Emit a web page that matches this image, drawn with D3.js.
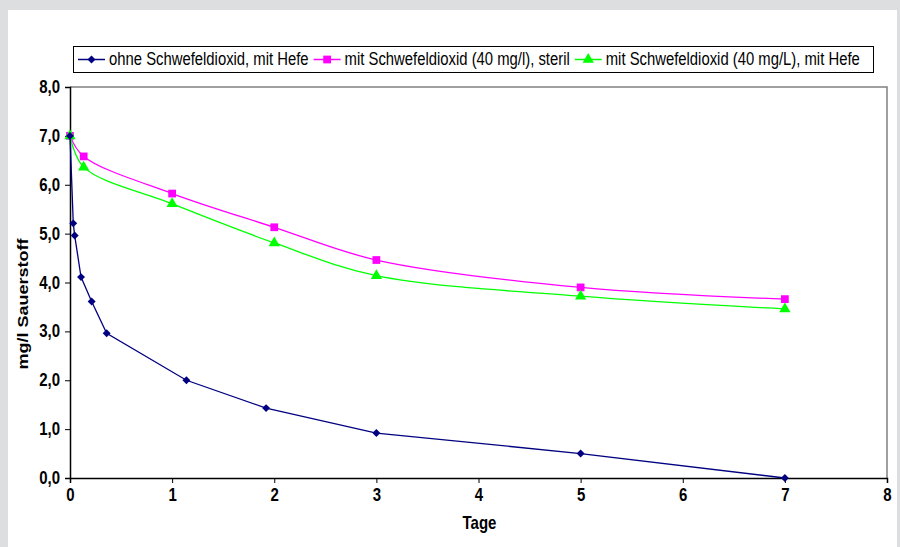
<!DOCTYPE html>
<html><head><meta charset="utf-8">
<script src="https://cdn.jsdelivr.net/npm/d3@7"></script>
<style>
html,body{margin:0;padding:0;background:#dddee0;}
svg{display:block;font-family:"Liberation Sans",Arial,sans-serif;}
</style></head>
<body><svg id="c" width="900" height="547"></svg>
<script>
const seriesNames = ["ohne Schwefeldioxid, mit Hefe","mit Schwefeldioxid (40 mg/l), steril","mit Schwefeldioxid (40 mg/L), mit Hefe"];
const daysA = [0, 0.032, 0.046, 0.108, 0.212, 0.359, 1.14, 1.92, 3, 5, 7];
const oxyA  = [7.0, 5.21, 4.96, 4.11, 3.61, 2.96, 2.0, 1.43, 0.92, 0.5, 0.0];
const daysB = [0, 0.134, 1, 2, 3, 5, 7];
const oxyB  = [7.0, 6.58, 5.82, 5.13, 4.46, 3.9, 3.66];
const daysC = [0, 0.134, 1, 2, 3, 5, 7];
const oxyC  = [7.0, 6.36, 5.61, 4.81, 4.14, 3.72, 3.46];
const xTicks = [0,1,2,3,4,5,6,7,8];
const yTicks = [0,1,2,3,4,5,6,7,8];

const SY = 1.2; // vertical stretch of the text, as in the picture
const svg = d3.select("#c");
svg.append("rect").attr("x",8).attr("y",10).attr("width",889).attr("height",540).attr("fill","#fff");

const x = d3.scaleLinear().domain([0,8]).range([70,887]);
const y = d3.scaleLinear().domain([0,8]).range([478,87]);

svg.append("path").attr("d",`M${x(0)},${y(8)}H${x(8)}V${y(0)}`).attr("fill","none").attr("stroke","#808080").attr("stroke-width",1.5);

const fmt = d => d3.format(".1f")(d).replace(".",",");
const yAx = svg.append("g").attr("transform",`translate(${x(0)},0)`)
  .call(d3.axisLeft(y).tickValues(yTicks).tickSize(5).tickFormat(fmt));
const xAx = svg.append("g").attr("transform",`translate(0,${y(0)})`)
  .call(d3.axisBottom(x).tickValues(xTicks).tickSize(5).tickFormat(d3.format("d")));
[yAx,xAx].forEach(g=>{
  g.select(".domain").attr("stroke","#000").attr("stroke-width",1.5);
  g.selectAll(".tick line").attr("stroke","#000");
  g.selectAll("text").attr("font-size",15).attr("font-weight","bold").attr("fill","#000")
   .attr("font-family","'Liberation Sans',Arial,sans-serif");
});
yAx.selectAll("text").attr("x",-10).attr("y",0).attr("dy",null)
  .attr("transform",`translate(0,${5.5}) scale(1,${SY})`);
xAx.selectAll("text").attr("y",0).attr("dy",null)
  .attr("transform",`translate(0,${23}) scale(1,${SY})`);

svg.append("text").attr("text-anchor","middle").attr("font-size",15).attr("font-weight","bold")
  .attr("transform",`translate(${x(4)+1},529) scale(1,${SY})`).text("Tage");
svg.append("text").attr("text-anchor","middle").attr("font-size",15).attr("font-weight","bold")
  .attr("transform",`translate(28,304) rotate(-90) scale(${SY},1)`).text("mg/l Sauerstoff");

const colors = ["#000080","#ff00ff","#00ff00"];
const data = [
  daysA.map((d,i)=>[d,oxyA[i]]),
  daysB.map((d,i)=>[d,oxyB[i]]),
  daysC.map((d,i)=>[d,oxyC[i]])
];
const curves = [d3.curveLinear, d3.curveCatmullRom.alpha(0.5), d3.curveCatmullRom.alpha(0.5)];
const sym = [d3.symbolDiamond2, d3.symbolSquare, d3.symbolTriangle];
const symSize = [40, 60, 55];

function marker(g, i, cx, cy){
  g.append("path").attr("d", d3.symbol().type(sym[i]).size(symSize[i])())
   .attr("transform",`translate(${cx},${cy})`).attr("fill",colors[i]).attr("stroke","none");
}

[1,2,0].forEach(i=>{
  const line = d3.line().x(d=>x(d[0])).y(d=>y(d[1])).curve(curves[i]);
  svg.append("path").datum(data[i]).attr("d",line).attr("fill","none")
    .attr("stroke",colors[i]).attr("stroke-width",1.3);
  const g = svg.append("g");
  data[i].forEach(d=>marker(g,i,x(d[0]),y(d[1])));
});

// legend
const lg = svg.append("g");
lg.append("rect").attr("x",73.5).attr("y",46.5).attr("width",800).attr("height",26)
  .attr("fill","#fff").attr("stroke","#000").attr("stroke-width",1);
let lx = 78;
seriesNames.forEach((n,i)=>{
  lg.append("line").attr("x1",lx).attr("x2",lx+27).attr("y1",59.5).attr("y2",59.5)
    .attr("stroke",colors[i]).attr("stroke-width",1.5);
  marker(lg,i,lx+13.5,59.5);
  const t = lg.append("text").attr("font-size",14.85).attr("fill","#000")
    .attr("transform",`translate(${lx+31},64.5) scale(1,${SY})`).text(n);
  lx += 31 + t.node().getComputedTextLength() + 5;
});
</script></body></html>
